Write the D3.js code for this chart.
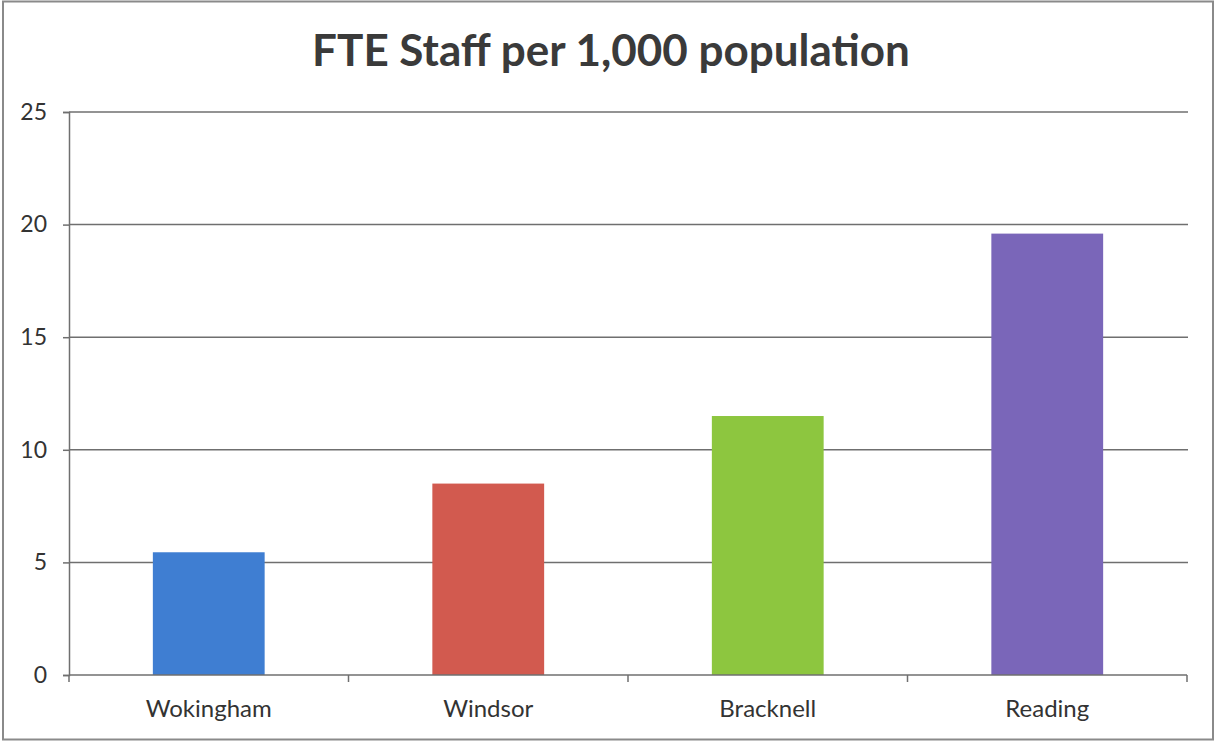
<!DOCTYPE html>
<html>
<head>
<meta charset="utf-8">
<script src="https://cdn.jsdelivr.net/npm/d3@7"></script>
<style>
  html, body { margin: 0; padding: 0; background: #fff; }
  svg { display: block; }
</style>
</head>
<body>
<svg id="chart" width="1217" height="742"></svg>
<script>
// FTE staff per 1,000 population by authority
const categories = ["Wokingham", "Windsor", "Bracknell", "Reading"];
const values = [5.45, 8.5, 11.5, 19.6];
const barColors = ["#3f7ed2", "#d25a4f", "#8dc63f", "#7a66b9"];
const yTicks = [0, 5, 10, 15, 20, 25];
const title = "FTE Staff per 1,000 population";

const W = 1217, H = 742;
const margin = { left: 69, right: 30, top: 112, bottom: 67 };
const labelFont = "Lato, 'Open Sans', sans-serif";
const svg = d3.select("#chart");

// outer frame
svg.append("rect")
  .attr("x", 3).attr("y", 1.5)
  .attr("width", 1210).attr("height", 738)
  .attr("fill", "#fff")
  .attr("stroke", "#8a8a8a")
  .attr("stroke-width", 2);

const x = d3.scaleBand()
  .domain(categories)
  .range([margin.left, W - margin.right])
  .paddingInner(0.6)
  .paddingOuter(0.3);

const y = d3.scaleLinear()
  .domain([0, 25])
  .range([H - margin.bottom, margin.top]);

// horizontal gridlines
svg.append("g")
  .selectAll("line")
  .data(yTicks.filter(d => d > 0))
  .join("line")
  .attr("x1", margin.left).attr("x2", W - margin.right + 1)
  .attr("y1", d => y(d)).attr("y2", d => y(d))
  .attr("stroke", "#6f6f6f")
  .attr("stroke-width", 1.5);

// bars
svg.append("g")
  .selectAll("rect")
  .data(categories)
  .join("rect")
  .attr("x", d => x(d))
  .attr("width", x.bandwidth())
  .attr("y", (d, i) => y(values[i]))
  .attr("height", (d, i) => y(0) - y(values[i]))
  .attr("fill", (d, i) => barColors[i]);

// y axis
const yAxis = d3.axisLeft(y)
  .tickValues(yTicks)
  .tickSize(6)
  .tickPadding(16);
const gy = svg.append("g")
  .attr("transform", `translate(${margin.left},0)`)
  .call(yAxis);
gy.select(".domain").attr("stroke", "#6f6f6f").attr("stroke-width", 1.5);
gy.selectAll(".tick line").attr("stroke", "#6f6f6f").attr("stroke-width", 1.5);
gy.selectAll(".tick text")
  .attr("fill", "#333")
  .style("font-family", labelFont)
  .style("font-size", "23px");

// x axis with ticks at category boundaries
const xAxis = d3.axisBottom(x).tickSize(0).tickPadding(25);
const gx = svg.append("g")
  .attr("transform", `translate(0,${y(0)})`)
  .call(xAxis);
gx.select(".domain").remove();
gx.selectAll(".tick text")
  .attr("fill", "#333")
  .style("font-family", labelFont)
  .style("font-size", "24px");

const boundaries = d3.range(categories.length + 1)
  .map(i => margin.left + i * (W - margin.right - margin.left) / categories.length);
svg.append("line")
  .attr("x1", margin.left).attr("x2", W - margin.right)
  .attr("y1", y(0)).attr("y2", y(0))
  .attr("stroke", "#6f6f6f").attr("stroke-width", 1.5);
svg.append("g")
  .selectAll("line")
  .data(boundaries)
  .join("line")
  .attr("x1", d => d).attr("x2", d => d)
  .attr("y1", y(0)).attr("y2", y(0) + 7)
  .attr("stroke", "#6f6f6f").attr("stroke-width", 1.5);

// title
svg.append("text")
  .attr("x", 611)
  .attr("y", 66)
  .attr("text-anchor", "middle")
  .attr("fill", "#3a3a3a")
  .style("font-family", labelFont)
  .style("font-weight", "bold")
  .style("font-size", "44px")
  .text(title);
</script>
</body>
</html>
